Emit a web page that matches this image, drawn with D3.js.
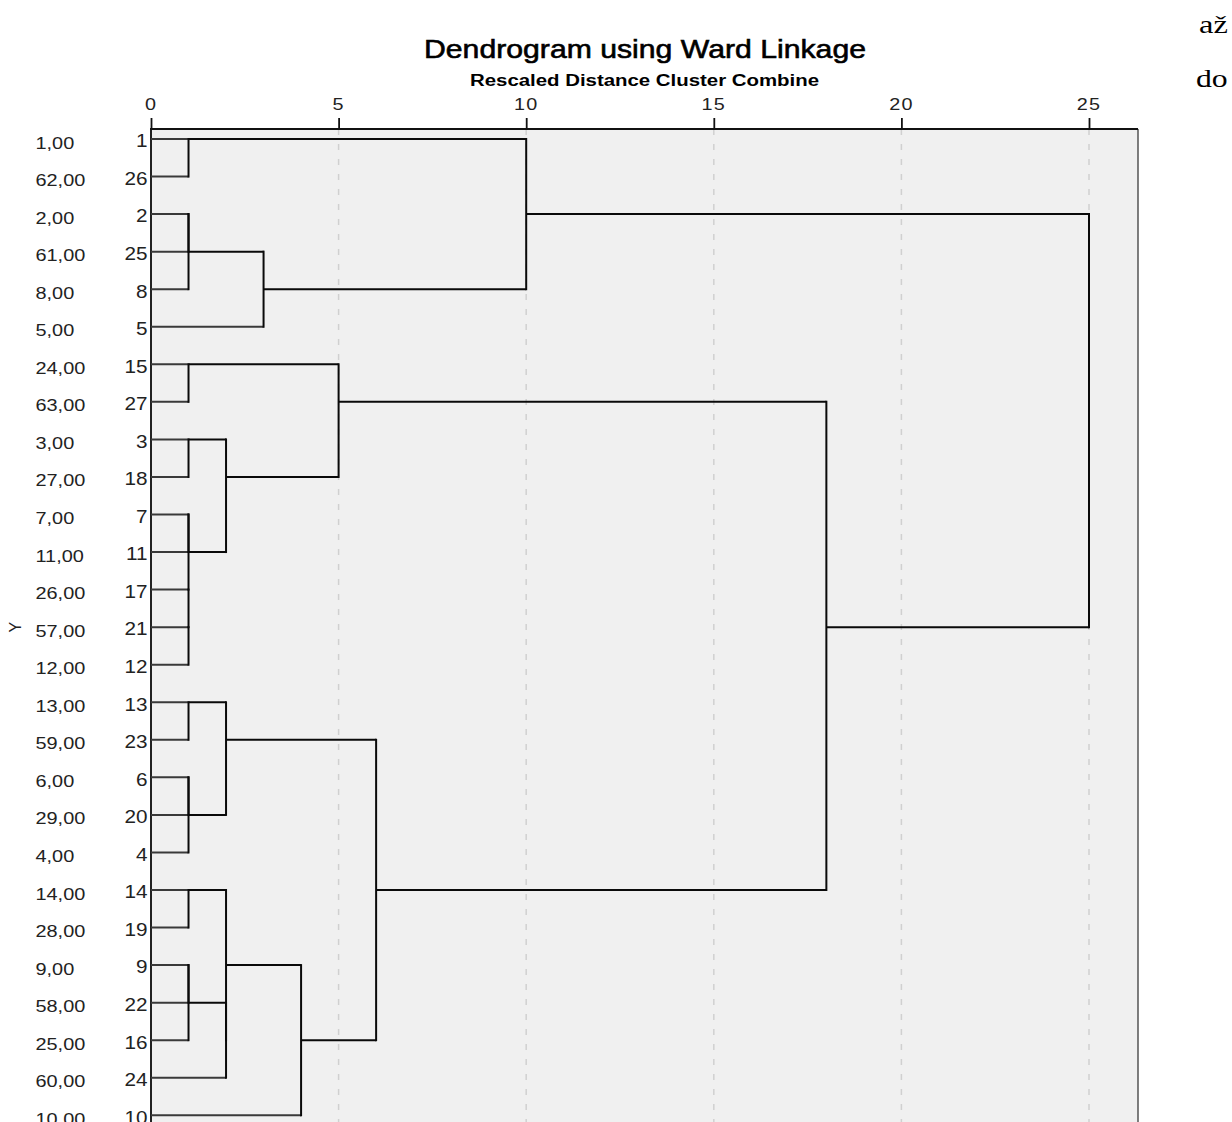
<!DOCTYPE html>
<html>
<head>
<meta charset="utf-8">
<script src="https://cdn.jsdelivr.net/npm/d3@7"></script>
<style>
  body { margin: 0; background: #fff; }
  svg { display: block; }
  text { font-family: "Liberation Sans", Arial, sans-serif; fill: #222; }
</style>
</head>
<body>
<div id="chart"></div>
<script>
// row labels (value of Y) and case numbers, top to bottom
var yLabels = ["1,00", "62,00", "2,00", "61,00", "8,00", "5,00", "24,00", "63,00", "3,00", "27,00",
  "7,00", "11,00", "26,00", "57,00", "12,00", "13,00", "59,00", "6,00", "29,00", "4,00",
  "14,00", "28,00", "9,00", "58,00", "25,00", "60,00", "10,00"];
var caseIds = ["1", "26", "2", "25", "8", "5", "15", "27", "3", "18", "7", "11", "17", "21", "12",
  "13", "23", "6", "20", "4", "14", "19", "9", "22", "16", "24", "10"];

// agglomeration steps: [left, right, rescaled distance]; "cN" = result of step N
var merges = [
  ["1", "26", 1],     // c0
  ["2", "25", 1],     // c1
  ["c1", "8", 1],     // c2
  ["c2", "5", 3],     // c3
  ["c0", "c3", 10],   // c4
  ["15", "27", 1],    // c5
  ["3", "18", 1],     // c6
  ["7", "11", 1],     // c7
  ["21", "12", 1],    // c8
  ["17", "c8", 1],    // c9
  ["c7", "c9", 1],    // c10
  ["c6", "c10", 2],   // c11
  ["c5", "c11", 5],   // c12
  ["13", "23", 1],    // c13
  ["6", "20", 1],     // c14
  ["c14", "4", 1],    // c15
  ["c13", "c15", 2],  // c16
  ["14", "19", 1],    // c17
  ["9", "22", 1],     // c18
  ["c18", "16", 1],   // c19
  ["c19", "24", 2],   // c20
  ["c17", "c20", 2],  // c21
  ["c21", "10", 4],   // c22
  ["c16", "c22", 6],  // c23
  ["c12", "c23", 18], // c24
  ["c4", "c24", 25]   // c25
];
var xTicks = [0, 5, 10, 15, 20, 25];

var svgWidth = 1232, svgHeight = 1122;
var svg = d3.select("#chart").append("svg")
  .attr("width", svgWidth)
  .attr("height", svgHeight);

var x = d3.scaleLinear().domain([0, 25]).range([151, 1089]);
var y = d3.scaleLinear().domain([0, caseIds.length - 1]).range([139, 1115.3]);
var panelRight = 1138, panelTop = 129;

// stretched text helper (the original output is a bit wide)
function stext(g, px, py, str, size, sx) {
  return g.append("text")
    .attr("transform", `translate(${px},${py}) scale(${sx},1)`)
    .style("font-size", size + "px")
    .text(str);
}

// panel
svg.append("rect")
  .attr("x", x(0)).attr("y", panelTop)
  .attr("width", panelRight - x(0)).attr("height", svgHeight + 20 - panelTop)
  .attr("fill", "#f0f0f0");

// dashed grid
svg.selectAll(".grid").data(xTicks.filter(d => d > 0)).enter()
  .append("line")
  .attr("class", "grid")
  .attr("x1", d => x(d)).attr("x2", d => x(d))
  .attr("y1", panelTop).attr("y2", svgHeight)
  .attr("stroke", "#d0d0d0")
  .attr("stroke-width", 1.5)
  .attr("stroke-dasharray", "6,9");

// panel borders
svg.append("line")
  .attr("x1", panelRight).attr("x2", panelRight)
  .attr("y1", panelTop).attr("y2", svgHeight)
  .attr("stroke", "#555").attr("stroke-width", 1.5);
svg.append("line")
  .attr("x1", x(0)).attr("x2", x(0))
  .attr("y1", panelTop).attr("y2", svgHeight)
  .attr("stroke", "#222").attr("stroke-width", 2);

// top axis
var topAxis = d3.axisTop(x).tickValues(xTicks).tickSize(11).tickFormat(d3.format("d"));
var axisG = svg.append("g")
  .attr("transform", `translate(0,${panelTop})`)
  .call(topAxis);
axisG.select(".domain").remove();
axisG.selectAll(".tick line").attr("stroke", "#111").attr("stroke-width", 1.8);
axisG.selectAll(".tick text").remove();
axisG.append("line")
  .attr("x1", x(0) - 1).attr("x2", panelRight)
  .attr("stroke", "#111").attr("stroke-width", 2);
xTicks.forEach(function(t) {
  stext(svg, x(t), 110, t, 16.5, 1.2)
    .attr("text-anchor", "middle")
    .style("letter-spacing", "1px");
});

// build tree positions
var nodes = {};
caseIds.forEach(function(id, i) { nodes[id] = {row: i, h: 0, leaf: true}; });
merges.forEach(function(m, i) {
  var a = nodes[m[0]], b = nodes[m[1]];
  nodes["c" + i] = {row: Math.floor((a.row + b.row) / 2), h: m[2], kids: [a, b], leaf: false};
});

var tree = svg.append("g").attr("fill", "none");
// horizontal lines from children to their merge
merges.forEach(function(m, i) {
  var n = nodes["c" + i];
  n.kids.forEach(function(k) {
    tree.append("line")
      .attr("x1", x(k.h)).attr("x2", x(n.h))
      .attr("y1", y(k.row)).attr("y2", y(k.row))
      .attr("stroke", k.leaf ? "#3a3a3a" : "#0a0a0a")
      .attr("stroke-width", 2);
  });
});
// vertical joins
merges.forEach(function(m, i) {
  var n = nodes["c" + i];
  var rows = n.kids.map(k => k.row);
  tree.append("line")
    .attr("x1", x(n.h)).attr("x2", x(n.h))
    .attr("y1", y(d3.min(rows)) - 1).attr("y2", y(d3.max(rows)) + 1)
    .attr("stroke", "#0a0a0a")
    .attr("stroke-width", 2);
});

// row labels
yLabels.forEach(function(lab, i) {
  stext(svg, 35.5, y(i) + 9.5, lab, 17, 1.17);
});
caseIds.forEach(function(id, i) {
  stext(svg, 147.5, y(i) + 8.3, id, 18, 1.15)
    .attr("text-anchor", "end");
});

// Y axis title
svg.append("text")
  .attr("transform", `translate(20.5,${y((caseIds.length - 1) / 2)}) rotate(-90)`)
  .attr("text-anchor", "middle")
  .style("font-size", "16px")
  .text("Y");

// titles
svg.append("text")
  .attr("x", 424).attr("y", 58)
  .attr("textLength", 442).attr("lengthAdjust", "spacingAndGlyphs")
  .style("font-size", "26px")
  .style("fill", "#000")
  .style("stroke", "#000")
  .style("stroke-width", "0.6px")
  .text("Dendrogram using Ward Linkage");
svg.append("text")
  .attr("x", 470).attr("y", 85.5)
  .attr("textLength", 349).attr("lengthAdjust", "spacingAndGlyphs")
  .style("font-size", "16px")
  .style("font-weight", "bold")
  .style("fill", "#000")
  .text("Rescaled Distance Cluster Combine");

// stray words from the surrounding page
stext(svg, 1199, 33, "až", 26, 1.25).style("font-family", "'Liberation Serif', 'Times New Roman', serif").style("fill", "#000");
stext(svg, 1196, 87, "do", 26, 1.22).style("font-family", "'Liberation Serif', 'Times New Roman', serif").style("fill", "#000");
</script>
</body>
</html>
